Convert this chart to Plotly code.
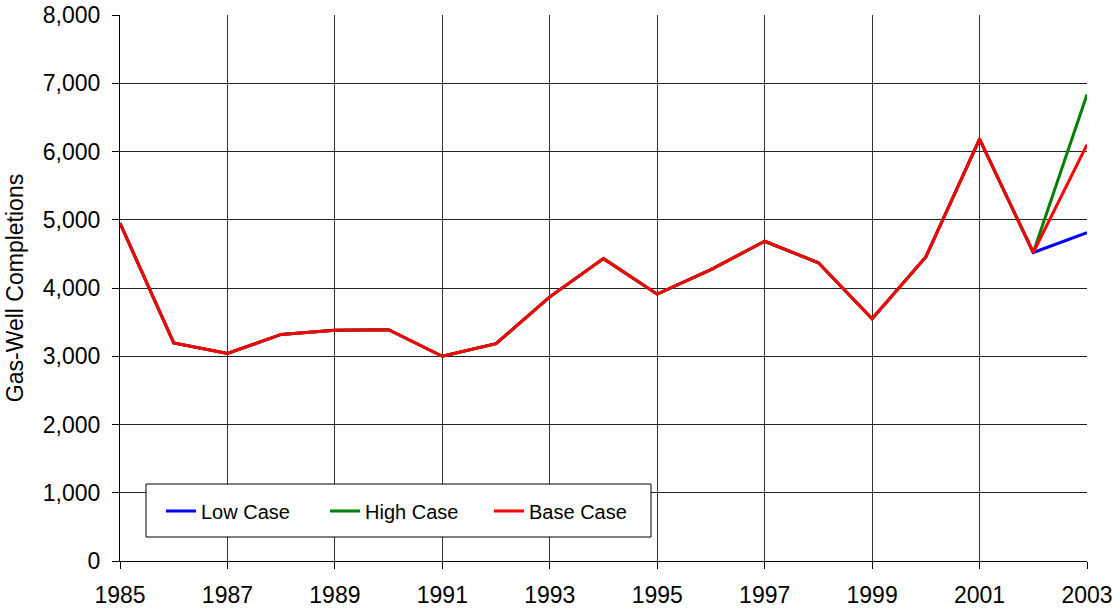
import plotly.graph_objects as go

years = list(range(1985, 2004))
history = [4950, 3195, 3040, 3320, 3380, 3390, 3000, 3185, 3870, 4430,
           3910, 4270, 4685, 4370, 3550, 4455, 6180, 4520]
low_2003 = 4810
high_2003 = 6835
base_2003 = 6100

series_names = ["Low Case", "High Case", "Base Case"]
series_colors = ["#0000FF", "#008000", "#FF0000"]
series_last = [low_2003, high_2003, base_2003]

FONT = "Arial, Liberation Sans, sans-serif"

fig = go.Figure()
for name, color, last in zip(series_names, series_colors, series_last):
    fig.add_trace(go.Scatter(
        x=years, y=history + [last], mode="lines", name=name,
        line=dict(color=color, width=3),
    ))

# legend box background
fig.add_shape(type="rect", xref="paper", yref="paper",
              x0=(146 - 120) / 967, x1=(651 - 120) / 967,
              y0=(561 - 537) / 546, y1=(561 - 484) / 546,
              line=dict(color="black", width=1), fillcolor="white",
              layer="above")

fig.update_layout(
    width=1116, height=610,
    margin=dict(l=120, r=29, t=15, b=49),
    paper_bgcolor="white", plot_bgcolor="white",
    font=dict(family=FONT, size=23, color="black"),
    showlegend=True,
    legend=dict(orientation="h", x=(161 - 120) / 967, xanchor="left",
                y=(561 - 511) / 546, yanchor="middle",
                bgcolor="rgba(0,0,0,0)", borderwidth=0,
                font=dict(family=FONT, size=20, color="black"),
                entrywidth=119, entrywidthmode="pixels",
                traceorder="normal"),
    xaxis=dict(range=[1985, 2003], tick0=1985, dtick=2,
               showgrid=True, gridcolor="#333333", gridwidth=1,
               showline=True, linecolor="black", linewidth=1,
               ticks="outside", ticklen=7, tickcolor="black",
               ticklabelstandoff=6, automargin=False,
               zeroline=False, fixedrange=True),
    yaxis=dict(range=[0, 8000], dtick=1000, tickformat=",",
               showgrid=True, gridcolor="#222222", gridwidth=1,
               showline=True, linecolor="black", linewidth=1,
               ticks="outside", ticklen=7, tickcolor="black",
               ticklabelstandoff=7, automargin=False,
               zeroline=False, fixedrange=True,
               title=dict(text="Gas-Well Completions",
                          font=dict(family=FONT, size=23), standoff=12)),
)

fig.write_html("out.html", config={"displayModeBar": False},
               post_script="document.body.style.margin='0';document.body.style.overflow='hidden';")
